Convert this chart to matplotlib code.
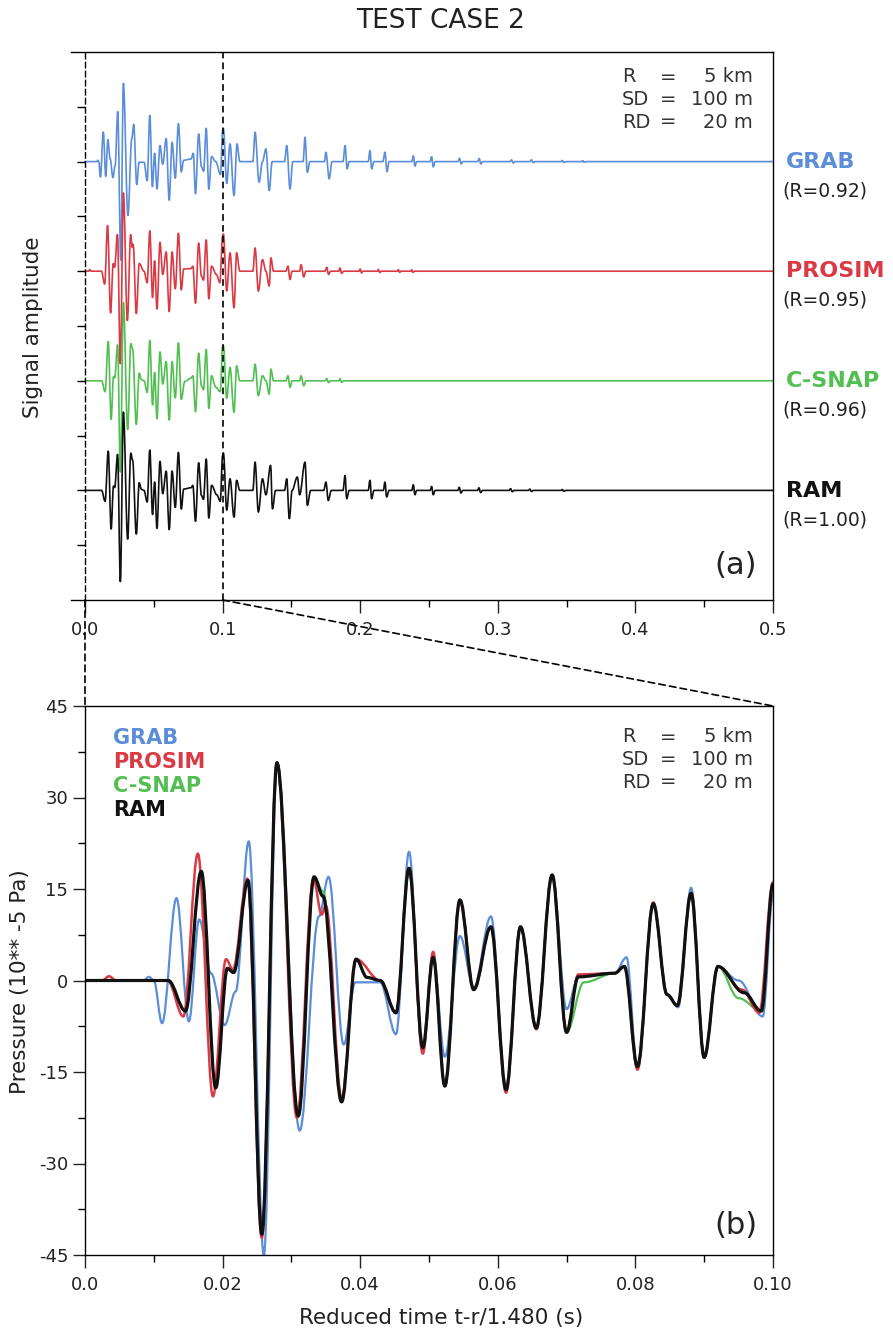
import numpy as np
import matplotlib.pyplot as plt
from matplotlib.path import Path
from matplotlib.patches import PathPatch, ConnectionPatch

# --- waveform knots: time (s), pressure (10**-5 Pa) ---
grab_t = [0.0, 0.0085, 0.0093, 0.0100, 0.0112, 0.0133, 0.0151, 0.0166, 0.0183, 0.0203,
          0.0219, 0.0238, 0.0260, 0.0279, 0.0312, 0.0340, 0.0354, 0.0376, 0.0393, 0.0429,
          0.0452, 0.0471, 0.0490, 0.0506, 0.0523, 0.0545, 0.0565, 0.0590, 0.0612, 0.0633,
          0.0656, 0.0679, 0.0700, 0.0717, 0.0770, 0.0787, 0.0803, 0.0826, 0.0846, 0.0862,
          0.0881, 0.0900, 0.0920, 0.0950, 0.0985, 0.1000]
grab_v = [0, 0, 0.6, 0, -7.0, 13.5, -6.7, 10.0, 1.2, -7.3,
          -1.8, 22.8, -45.0, 35.7, -24.6, 10.5, 17.0, -10.5, -0.3, -0.3,
          -8.8, 21.1, -11.4, 3.8, -12.5, 7.3, -1.2, 10.5, -17.6, 8.8,
          -7.6, 17.3, -4.7, 0.6, 1.2, 3.8, -14.6, 12.6, -2.3, -4.4,
          15.2, -12.6, 2.3, 0.0, -5.9, 14.0]

prosim_t = [0.0, 0.0025, 0.0035, 0.0045, 0.0120, 0.0143, 0.0164, 0.0186, 0.0205, 0.0215,
            0.0236, 0.0257, 0.0279, 0.0308, 0.0332, 0.0344, 0.0350, 0.0373, 0.0394, 0.0429,
            0.0452, 0.0471, 0.0491, 0.0506, 0.0523, 0.0545, 0.0565, 0.0590, 0.0612, 0.0633,
            0.0656, 0.0679, 0.0700, 0.0717, 0.0770, 0.0784, 0.0803, 0.0826, 0.0846, 0.0861,
            0.0881, 0.0900, 0.0920, 0.0955, 0.0980, 0.1000]
prosim_v = [0, 0, 0.7, 0, 0, -5.9, 20.8, -19.0, 3.5, 1.8,
            16.7, -42.2, 35.7, -22.5, 16.7, 10.8, 12.3, -19.3, 3.5, 0.0,
            -5.3, 18.4, -12.0, 4.7, -17.3, 13.2, -1.5, 8.8, -18.4, 8.8,
            -8.0, 17.3, -8.5, 1.0, 1.2, 2.3, -14.6, 12.8, -2.3, -4.1,
            14.3, -12.6, 2.3, -1.5, -5.3, 16.1]

csnap_t = [0.0, 0.0121, 0.0146, 0.0169, 0.0190, 0.0207, 0.0216, 0.0237, 0.0257, 0.0279,
           0.0310, 0.0333, 0.0346, 0.0373, 0.0394, 0.0410, 0.0429, 0.0452, 0.0471, 0.0491,
           0.0506, 0.0523, 0.0545, 0.0565, 0.0590, 0.0612, 0.0633, 0.0656, 0.0679, 0.0700,
           0.0725, 0.0770, 0.0784, 0.0803, 0.0826, 0.0846, 0.0861, 0.0881, 0.0900, 0.0920,
           0.0950, 0.0983, 0.1000]
csnap_v = [0, 0, -5.0, 17.9, -17.6, 2.0, 1.3, 16.4, -41.6, 35.7,
           -22.2, 17.0, 14.6, -19.9, 3.5, 0.5, 0.0, -5.3, 18.4, -11.0,
           3.8, -17.3, 13.2, -1.5, 8.8, -17.9, 8.8, -7.8, 17.3, -8.5,
           -0.3, 1.2, 2.3, -14.1, 12.6, -2.3, -4.1, 14.3, -12.6, 2.3,
           -2.9, -5.0, 15.8]

ram_t = [0.0, 0.0121, 0.0146, 0.0169, 0.0190, 0.0207, 0.0216, 0.0237, 0.0257, 0.0279,
         0.0310, 0.0333, 0.0346, 0.0373, 0.0394, 0.0410, 0.0429, 0.0452, 0.0471, 0.0491,
         0.0506, 0.0523, 0.0545, 0.0565, 0.0590, 0.0612, 0.0633, 0.0656, 0.0679, 0.0700,
         0.0717, 0.0770, 0.0784, 0.0803, 0.0826, 0.0846, 0.0861, 0.0881, 0.0900, 0.0920,
         0.0958, 0.0983, 0.1000]
ram_v = [0, 0, -5.0, 17.9, -17.6, 2.0, 1.3, 16.4, -41.6, 35.7,
         -22.2, 17.0, 13.8, -19.9, 3.5, 0.5, 0.0, -5.3, 18.4, -11.0,
         3.8, -17.3, 13.2, -1.5, 8.8, -17.9, 8.8, -7.8, 17.3, -8.5,
         0.6, 1.2, 2.3, -14.1, 12.6, -2.3, -4.1, 14.3, -12.6, 2.3,
         -2.0, -5.0, 15.8]

# --- tails after 0.1 s ---
grab_tail_t = [0.1006, 0.1030, 0.1054, 0.1083, 0.1105, 0.1125, 0.1220, 0.1236, 0.1265, 0.1290,
               0.1315, 0.1339, 0.1360, 0.1450, 0.1466, 0.1490, 0.1510, 0.1585, 0.1599, 0.1616,
               0.1635, 0.1740, 0.1751, 0.1775, 0.1795, 0.1875, 0.1890, 0.1905, 0.1920, 0.2058,
               0.2071, 0.2083, 0.2100, 0.2165, 0.2180, 0.2195, 0.2210, 0.2375, 0.2386, 0.2398,
               0.2410, 0.2508, 0.2519, 0.2531, 0.2545, 0.2710, 0.2722, 0.2734, 0.2745, 0.2853,
               0.2865, 0.2877, 0.2890, 0.3088, 0.3100, 0.3112, 0.3125, 0.3233, 0.3245, 0.3257,
               0.3270, 0.3460, 0.3469, 0.3480, 0.3495, 0.3610, 0.3617, 0.3628, 0.3640, 0.5]
grab_tail_v = [15.0, -10.0, 8.1, -15.5, 8.1, 0, 0, 13.4, -9.4, 0,
               5.8, -13.2, 0, 0, 7.3, -12.5, 0, 0, 11.1, -4.9,
               0, 0, 4.3, -7.9, 0, 0, 7.3, -3.3, 0, 0,
               5.0, -3.3, 0, 0, 4.3, -4.6, 0, 0, 2.6, -2.1,
               0, 0, 2.2, -2.4, 0, 0, 1.5, -1.1, 0, 0,
               1.4, -1.1, 0, 0, 0.8, -0.6, 0, 0, 0.8, -0.5,
               0, 0, 0.5, -0.4, 0, 0, 0.4, -0.3, 0, 0]

prosim_tail_t = [0.1006, 0.1030, 0.1054, 0.1083, 0.1102, 0.1125, 0.1220, 0.1236, 0.1260, 0.1290,
                 0.1315, 0.1339, 0.1351, 0.1370, 0.1460, 0.1475, 0.1490, 0.1505, 0.1560, 0.1570,
                 0.1590, 0.1605, 0.1745, 0.1757, 0.1770, 0.1785, 0.1845, 0.1853, 0.1865, 0.1880,
                 0.1992, 0.2000, 0.2010, 0.2020, 0.2125, 0.2132, 0.2142, 0.2152, 0.2270, 0.2277,
                 0.2287, 0.2297, 0.2367, 0.2374, 0.2384, 0.2394, 0.5]
prosim_tail_v = [17.0, -9.0, 8.4, -16.7, 8.4, 0, 0, 10.6, -9.1, 5.3,
                 0, -6.8, 6.1, 0, 0, 2.3, -3.8, 0, 0, 3.0,
                 -2.6, 0, 0, 1.8, -1.5, 0, 0, 1.5, -1.0, 0,
                 0, 1.0, -0.8, 0, 0, 0.8, -0.6, 0, 0, 0.7,
                 -0.5, 0, 0, 0.6, -0.5, 0, 0]

csnap_tail_t = [0.1006, 0.1030, 0.1054, 0.1083, 0.1102, 0.1125, 0.1220, 0.1236, 0.1260, 0.1290,
                0.1315, 0.1339, 0.1351, 0.1370, 0.1460, 0.1475, 0.1490, 0.1505, 0.1560, 0.1570,
                0.1590, 0.1605, 0.1745, 0.1757, 0.1770, 0.1785, 0.1845, 0.1853, 0.1865, 0.1880, 0.5]
csnap_tail_v = [16.0, -8.0, 6.1, -14.4, 6.8, 0, 0, 7.6, -6.8, 2.3,
                0, -6.1, 5.3, 0, 0, 2.3, -3.0, 0, 0, 2.3,
                -2.3, 0, 0, 1.0, -0.8, 0, 0, 1.0, -0.7, 0, 0]

ram_tail_t = [0.1006, 0.1030, 0.1054, 0.1083, 0.1102, 0.1125, 0.1220, 0.1236, 0.1260, 0.1290,
              0.1315, 0.1349, 0.1362, 0.1385, 0.1450, 0.1466, 0.1485, 0.1505, 0.1543, 0.1560,
              0.1599, 0.1616, 0.1640, 0.1735, 0.1751, 0.1768, 0.1790, 0.1875, 0.1890, 0.1902,
              0.1920, 0.2058, 0.2071, 0.2083, 0.2100, 0.2168, 0.2180, 0.2192, 0.2210, 0.2375,
              0.2386, 0.2398, 0.2410, 0.2508, 0.2519, 0.2531, 0.2545, 0.2710, 0.2720, 0.2732,
              0.2745, 0.2853, 0.2863, 0.2875, 0.2890, 0.3083, 0.3093, 0.3105, 0.3120, 0.3223,
              0.3233, 0.3245, 0.3260, 0.3460, 0.3469, 0.3480, 0.3495, 0.5]
ram_tail_v = [17.0, -9.0, 5.3, -12.2, 4.6, 0, 0, 12.9, -9.9, 5.3,
              -2.0, 11.4, -8.4, 0, 0, 5.3, -12.9, 0, 6.1, -2.0,
              12.9, -6.8, 0, 0, 3.8, -4.6, 0, 0, 6.8, -3.8,
              0, 0, 4.6, -3.8, 0, 0, 3.8, -3.0, 0, 0,
              2.6, -2.0, 0, 0, 1.8, -2.0, 0, 0, 1.4, -1.2,
              0, 0, 1.2, -1.0, 0, 0, 0.8, -0.6, 0, 0,
              0.6, -0.5, 0, 0, 0.4, -0.4, 0, 0]

names = ['GRAB', 'PROSIM', 'C-SNAP', 'RAM']
r_values = ['(R=0.92)', '(R=0.95)', '(R=0.96)', '(R=1.00)']
colors = ['#5b8dd9', '#d93a44', '#52bf52', '#111111']
offsets = [3, 2, 1, 0]

series = [(grab_t, grab_v, grab_tail_t, grab_tail_v),
          (prosim_t, prosim_v, prosim_tail_t, prosim_tail_v),
          (csnap_t, csnap_v, csnap_tail_t, csnap_tail_v),
          (ram_t, ram_v, ram_tail_t, ram_tail_v)]


def wave_path(t, v, k=0.36):
    # smooth curve through the knots, flat tangent at each knot
    verts = [(t[0], v[0])]
    codes = [Path.MOVETO]
    for i in range(1, len(t)):
        dt = t[i] - t[i - 1]
        verts += [(t[i - 1] + k * dt, v[i - 1]), (t[i] - k * dt, v[i]), (t[i], v[i])]
        codes += [Path.CURVE4] * 3
    return Path(verts, codes)


W, H = 893, 1336
fig = plt.figure(figsize=(W / 100, H / 100), dpi=100)
ax1 = fig.add_axes([71 / W, 1 - 600 / H, 702 / W, 548 / H])
ax2 = fig.add_axes([85 / W, 1 - 1255 / H, 688 / W, 549 / H])

dash = (0, (4, 2.5))

# ---- panel (a) ----
scale = 50.0
for (t, v, tt, tv), off, c in zip(series, offsets, colors):
    x = list(t) + list(tt)
    y = np.array(list(v) + list(tv)) / scale + off
    ax1.add_patch(PathPatch(wave_path(x, y), fill=False, edgecolor=c, lw=1.2,
                            joinstyle='round', capstyle='round'))

ax1.set_xlim(-0.01017, 0.5)
ax1.set_ylim(-1, 4)
ax1.spines['left'].set_position(('data', 0.0))
ax1.spines['left'].set_linestyle(dash)
for s in ax1.spines.values():
    s.set_linewidth(1.0)
ax1.axvline(0.1, color='k', lw=1.2, ls=dash)
ax1.set_xticks([0, 0.1, 0.2, 0.3, 0.4, 0.5])
ax1.set_xticklabels(['0.0', '0.1', '0.2', '0.3', '0.4', '0.5'])
ax1.set_xticks([0.05, 0.15, 0.25, 0.35, 0.45], minor=True)
ax1.set_yticks([-0.5, 0, 0.5, 1, 1.5, 2, 2.5, 3, 3.5])
ax1.tick_params(axis='x', which='major', direction='out', length=9, width=1, pad=6,
                labelsize=13, colors='#222222')
ax1.tick_params(axis='x', which='minor', direction='out', length=5, width=1)
ax1.tick_params(axis='y', direction='out', length=6, width=1, labelleft=False)
fig.text(736 / W, 1 - 566 / H, '(a)', fontsize=22, ha='center', va='center', color='#222222')

# ---- panel (b) ----
widths = [1.6, 1.8, 1.6, 2.3]
draw_order = [0, 2, 1, 3]
for i in draw_order:
    t, v = series[i][0], series[i][1]
    ax2.add_patch(PathPatch(wave_path(t, v), fill=False, edgecolor=colors[i], lw=widths[i],
                            joinstyle='round', capstyle='round'))

ax2.set_xlim(0, 0.1)
ax2.set_ylim(-45, 45)
for s in ax2.spines.values():
    s.set_linewidth(1.0)
ax2.set_xticks([0, 0.02, 0.04, 0.06, 0.08, 0.1])
ax2.set_xticklabels(['0.0', '0.02', '0.04', '0.06', '0.08', '0.10'])
ax2.set_xticks([0.01, 0.03, 0.05, 0.07, 0.09], minor=True)
ax2.set_yticks([-45, -30, -15, 0, 15, 30, 45])
ax2.set_yticklabels(['-45', '-30', '-15', '0', '15', '30', '45'])
ax2.set_yticks([-37.5, -22.5, -7.5, 7.5, 22.5, 37.5], minor=True)
ax2.tick_params(which='major', direction='out', length=9, width=1, labelsize=13,
                colors='#222222')
ax2.tick_params(which='minor', direction='out', length=5, width=1)
ax2.tick_params(axis='x', pad=6)
ax2.tick_params(axis='y', pad=3)
fig.text(736 / W, 1 - 1225 / H, '(b)', fontsize=22, ha='center', va='center', color='#222222')

# ---- zoom connectors ----
for x0 in [0.0, 0.1]:
    con = ConnectionPatch(xyA=(x0, -1), coordsA=ax1.transData,
                          xyB=(x0, 45), coordsB=ax2.transData,
                          color='k', lw=1.2, ls=dash)
    fig.add_artist(con)

# ---- text ----
fig.text(441 / W, 1 - 21 / H, 'TEST CASE 2', fontsize=19, ha='center', va='center',
         color='#222222')

for y0 in [77, 737]:
    rows = [('R', '5 km'), ('SD', '100 m'), ('RD', '20 m')]
    for j, (lab, val) in enumerate(rows):
        yy = 1 - (y0 + 22.5 * j) / H
        fig.text(622 / W, yy, lab, fontsize=14, ha='left', va='center', color='#333333')
        fig.text(668 / W, yy, '=', fontsize=14, ha='center', va='center', color='#333333')
        fig.text(753 / W, yy, val, fontsize=14, ha='right', va='center', color='#333333')

name_y = [162, 271, 381, 491]
for name, rv, c, yy in zip(names, r_values, colors, name_y):
    fig.text(786 / W, 1 - yy / H, name, fontsize=16, fontweight='bold', color=c,
             ha='left', va='center')
    fig.text(782 / W, 1 - (yy + 29) / H, rv, fontsize=13.5, color='#222222',
             ha='left', va='center')

for j, (name, c) in enumerate(zip(names, colors)):
    fig.text(113 / W, 1 - (738 + 24 * j) / H, name, fontsize=15, fontweight='bold',
             color=c, ha='left', va='center')

fig.text(33 / W, 1 - 327 / H, 'Signal amplitude', fontsize=15.5, rotation=90,
         ha='center', va='center', color='#222222')
fig.text(20 / W, 1 - 982 / H, 'Pressure (10** -5 Pa)', fontsize=15.5, rotation=90,
         ha='center', va='center', color='#222222')
fig.text(441 / W, 1 - 1318 / H, 'Reduced time t-r/1.480 (s)', fontsize=15.5,
         ha='center', va='center', color='#222222')

fig.savefig('out.png', dpi=100)
